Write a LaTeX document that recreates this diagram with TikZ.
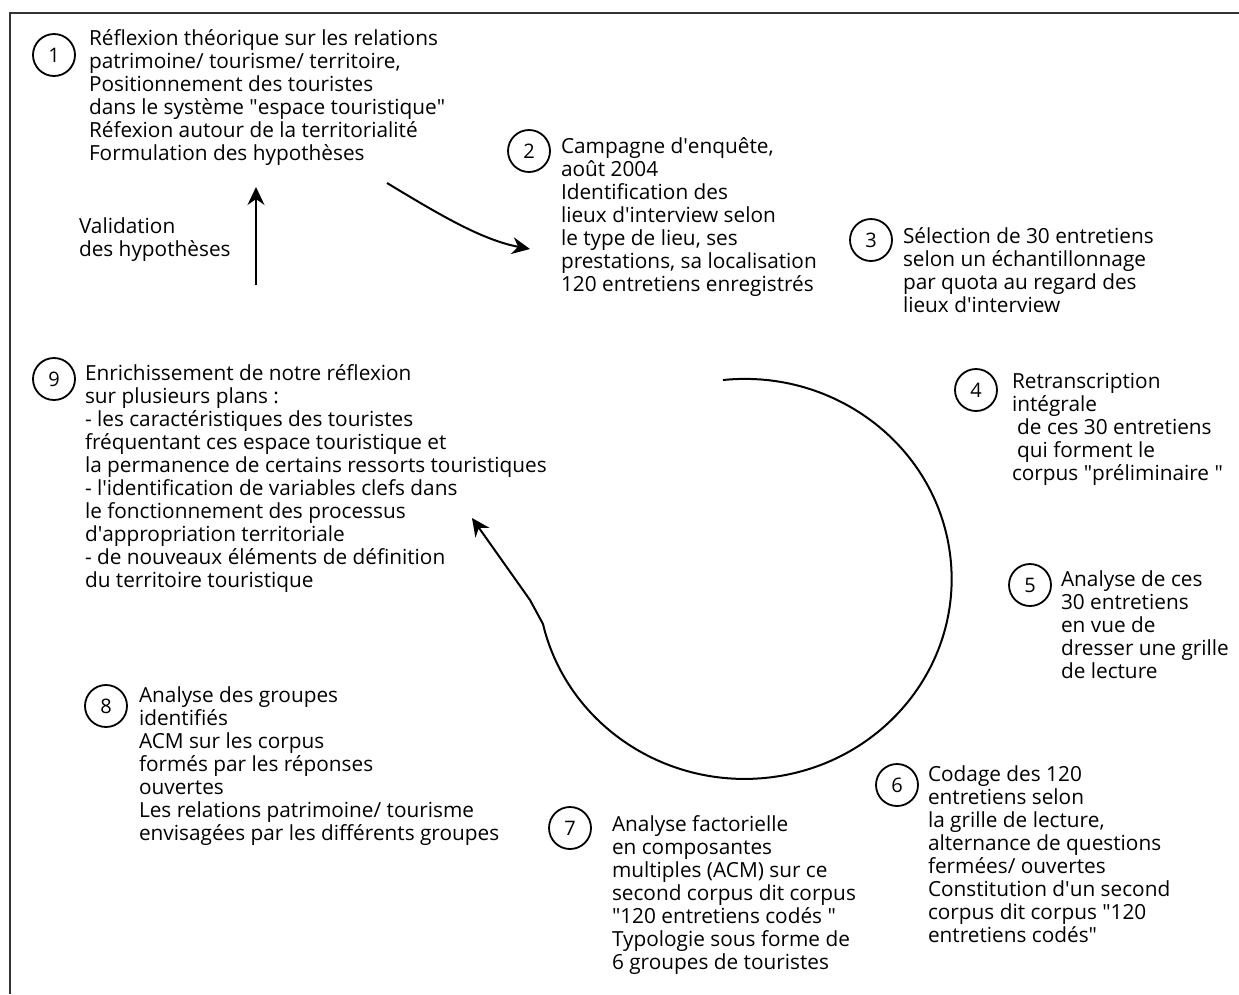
\documentclass[tikz,border=0pt]{standalone}
\usepackage{fontspec}
\setmainfont{Open Sans}
\usetikzlibrary{arrows.meta,positioning}
\newcommand{\q}{\textquotesingle}
\newcommand{\qq}{\textquotedbl}

\begin{document}
\begin{tikzpicture}[x=1pt,y=-1pt,>={Stealth[length=18pt,width=17pt,inset=6pt]},line width=2pt]
  \tikzstyle{num}=[draw,circle,minimum size=42pt,inner sep=0pt,line width=1.8pt,font=\fontsize{20}{23}\selectfont]
  \tikzstyle{txt}=[anchor=base west,align=left,inner sep=0pt,font=\fontsize{20.8}{23}\selectfont]
  \useasboundingbox (0,0) rectangle (1239,994);
  % frame (left and top only)
  \draw[line width=2pt,black!80] (9.5,994) -- (9.5,13) -- (1239,13);

  % step numbers
  \node[num] (n1) at (54,55) {1};
  \node[num] (n2) at (529,151) {2};
  \node[num] (n3) at (871,240) {3};
  \node[num] (n4) at (976,390) {4};
  \node[num] (n5) at (1030,585) {5};
  \node[num] (n6) at (897,785) {6};
  \node[num] (n7) at (570,828) {7};
  \node[num] (n8) at (106,706) {8};
  \node[num] (n9) at (54,379) {9};

  % step texts (placed by the baseline of their last line)
  \node[txt] (t1) at (88,160) {R\'eflexion th\'eorique sur les relations\\patrimoine/ tourisme/ territoire,\\Positionnement des touristes\\dans le syst\`eme \qq espace touristique\qq\\R\'efexion autour de la territorialit\'e\\Formulation des hypoth\`eses};
  \node[txt] (t2) at (560,291) {Campagne d\q enqu\^ete,\\ao\^ut 2004\\Identification des\\lieux d\q interview selon\\le type de lieu, ses\\prestations, sa localisation\\120 entretiens enregistr\'es};
  \node[txt] (t3) at (902,312) {S\'election de 30 entretiens\\selon un \'echantillonnage\\par quota au regard des\\lieux d\q interview};
  \node[txt] (t4) at (1011,480) {Retranscription\\int\'egrale\\\hspace*{0.25em}de ces 30 entretiens\\\hspace*{0.25em}qui forment le\\corpus \qq pr\'eliminaire \qq};
  \node[txt] (t5) at (1060,678) {Analyse de ces\\30 entretiens\\en vue de\\dresser une grille\\de lecture};
  \node[txt] (t6) at (927,942) {Codage des 120\\entretiens selon\\la grille de lecture,\\alternance de questions\\ferm\'ees/ ouvertes\\Constitution d\q un second\\corpus dit corpus \qq 120\\entretiens cod\'es\qq};
  \node[txt] (t7) at (611,969) {Analyse factorielle\\en composantes\\multiples (ACM) sur ce\\second corpus dit corpus\\\qq 120 entretiens cod\'es \qq\\Typologie sous forme de\\6 groupes de touristes};
  \node[txt] (t8) at (138,840) {Analyse des groupes\\identifi\'es\\ACM sur les corpus\\form\'es par les r\'eponses\\ouvertes\\Les relations patrimoine/ tourisme\\envisag\'ees par les diff\'erents groupes};
  \node[txt] (t9) at (84,587) {Enrichissement de notre r\'eflexion\\sur plusieurs plans :\\- les caract\'eristiques des touristes\\fr\'equentant ces espace touristique et\\la permanence de certains ressorts touristiques\\- l\q identification de variables clefs dans\\le fonctionnement des processus\\d\q appropriation territoriale\\- de nouveaux \'el\'ements de d\'efinition\\du territoire touristique};
  \node[txt] (valid) at (78,256) {Validation\\des hypoth\`eses};

  % connectors
  \coordinate (validbot) at (256,285);
  \coordinate (validtop) at (256,187);
  \coordinate (outone) at (387,183);
  \coordinate (intwo) at (530,249);
  \coordinate (loopstart) at (723,380);
  \coordinate (loopbend) at (530,600);
  \coordinate (looptip) at (472,518);
  \draw[->] (validbot) -- (validtop);
  \draw[->] (outone) .. controls (440,215) and (482,240) .. (intwo);
  \draw[->] (loopstart) arc[start angle=96,end angle=-167,x radius=207pt,y radius=200pt] -- (loopbend) -- (looptip);
\end{tikzpicture}
\end{document}
